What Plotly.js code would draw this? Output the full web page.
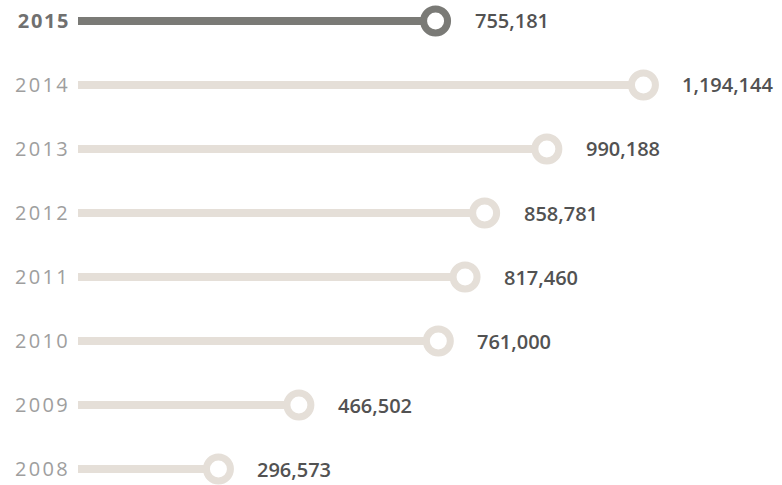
<!DOCTYPE html>
<html>
<head>
<meta charset="utf-8">
<script src="https://cdn.plot.ly/plotly-3.0.1.min.js"></script>
<style>
html,body{margin:0;padding:0;background:#fff;}
#chart{width:782px;height:485px;}
.ytick text{letter-spacing:2.3px;}
.ytick text[data-unformatted*="2015"]{letter-spacing:1.6px;}
</style>
</head>
<body>
<div id="chart"></div>
<script>
var years = ['2008','2009','2010','2011','2012','2013','2014','2015'];
var values = [296573, 466502, 761000, 817460, 858781, 990188, 1194144, 755181];
var highlightYear = '2015';

function fmt(v){ return String(v).replace(/\B(?=(\d{3})+(?!\d))/g, ','); }

var darkColor = '#7a7a76';
var lightColor = '#e5dfd8';
var colors = years.map(function(y){ return y === highlightYear ? darkColor : lightColor; });
var tickText = years.map(function(y){
  return y === highlightYear ? '<b><span style="color:#707070">' + y + '</span></b>' : y;
});

var bars = {
  type: 'bar',
  orientation: 'h',
  x: values,
  y: years,
  width: 0.125,
  marker: {color: colors, line: {width: 0}},
  hoverinfo: 'skip'
};
var dots = {
  type: 'scatter',
  mode: 'markers',
  x: values,
  y: years,
  cliponaxis: false,
  marker: {size: 24, color: '#ffffff', line: {color: colors, width: 7}},
  hoverinfo: 'skip'
};

var annotations = years.map(function(y, i){
  return {
    x: values[i], y: i, xref: 'x', yref: 'y',
    text: fmt(values[i]),
    showarrow: false, xanchor: 'left', yanchor: 'middle',
    xshift: 37,
    font: {family: 'Open Sans, sans-serif', size: 20, color: '#525252', weight: 600}
  };
});

var layout = {
  width: 782, height: 485,
  margin: {l: 78, r: 0, t: 0, b: 0},
  paper_bgcolor: '#ffffff', plot_bgcolor: '#ffffff',
  showlegend: false,
  xaxis: {range: [0, 1486800], showgrid: false, zeroline: false, showticklabels: false, showline: false, fixedrange: true},
  yaxis: {
    type: 'category', categoryorder: 'array', categoryarray: years,
    range: [-0.25, 7.328],
    tickmode: 'array', tickvals: years, ticktext: tickText,
    showgrid: false, zeroline: false, showline: false, ticks: '',
    ticklabelstandoff: 7,
    tickfont: {family: 'Open Sans, sans-serif', size: 20, color: '#9e9e9e'}
  },
  annotations: annotations
};

Plotly.newPlot('chart', [bars, dots], layout, {displayModeBar: false, staticPlot: true});
</script>
</body>
</html>
